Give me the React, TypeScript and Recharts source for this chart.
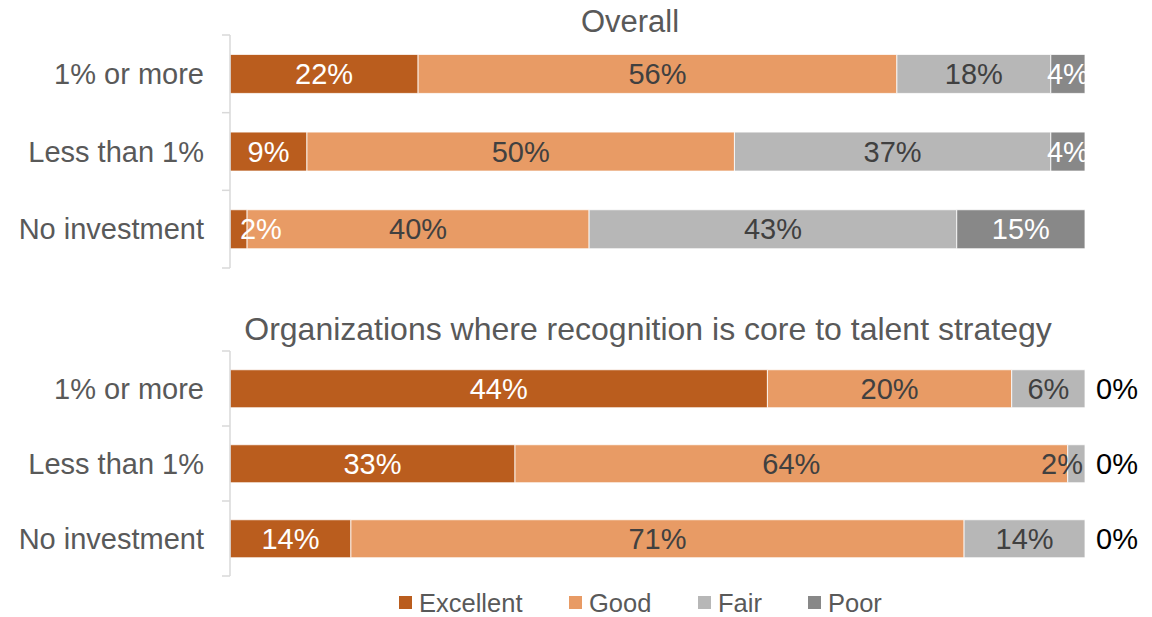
import React from 'react'
import { Bar, BarChart, LabelList, XAxis, YAxis } from 'recharts'

const groups = ['1% or more', 'Less than 1%', 'No investment']
const ratings = ['Excellent', 'Good', 'Fair', 'Poor']

const overallExcellent = [22, 9, 2]
const overallGood = [56, 50, 40]
const overallFair = [18, 37, 43]
const overallPoor = [4, 4, 15]

const coreExcellent = [44, 33, 14]
const coreGood = [20, 64, 71]
const coreFair = [6, 2, 14]
const corePoor = [0, 0, 0]

const colors = ['#ba5d1e', '#e89b65', '#b7b7b7', '#888888']
const labelColors = ['#ffffff', '#404040', '#404040', '#ffffff']

const FONT = '"Liberation Sans", Arial, sans-serif'
const PLOT_LEFT = 230
const PLOT_RIGHT = 1085

const overallData = groups.map((g, i) => ({
  group: g,
  Excellent: overallExcellent[i],
  Good: overallGood[i],
  Fair: overallFair[i],
  Poor: overallPoor[i],
}))

const coreData = groups.map((g, i) => ({
  group: g,
  Excellent: coreExcellent[i],
  Good: coreGood[i],
  Fair: coreFair[i],
  Poor: corePoor[i],
}))

// rough Arial digit/percent widths, used to keep labels inside the plot
function textWidth(s: string, size: number) {
  let w = 0
  for (const ch of s) w += ch === '%' ? 0.889 : 0.556
  return w * size
}

function makeLabel(idx: number) {
  return (props: any) => {
    const { x, y, width, height, value } = props
    if (!value) return null
    const size = 29
    const txt = `${value}%`
    const cy = Number(y) + Number(height) / 2
    const tw = textWidth(txt, size)
    let cx = Number(x) + Number(width) / 2
    if (cx - tw / 2 < PLOT_LEFT) cx = Number(x) + 10 + tw / 2
    if (cx + tw / 2 > PLOT_RIGHT + 4) cx = PLOT_RIGHT - 2 - tw / 2
    return (
      <text x={cx} y={cy} fill={labelColors[idx]} fontSize={size} fontFamily={FONT} textAnchor='middle' dominantBaseline='central'>
        {txt}
      </text>
    )
  }
}

// zero-width Poor segments: print their 0% just past the end of the stack
function zeroLabel(props: any) {
  const { x, y, width, height, value } = props
  if (value !== 0) return null
  return (
    <text x={Number(x) + Number(width) + 11} y={Number(y) + Number(height) / 2} fill='#000' fontSize={29} fontFamily={FONT} textAnchor='start' dominantBaseline='central'>
      {`${value}%`}
    </text>
  )
}

function makeTick(plotHeight: number) {
  const band = plotHeight / groups.length
  return (props: any) => {
    const { y, payload, index } = props
    return (
      <g>
        <text x={PLOT_LEFT - 26} y={y} fill='#595959' fontSize={29} fontFamily={FONT} textAnchor='end' dominantBaseline='central'>
          {payload.value}
        </text>
        <line x1={PLOT_LEFT - 8} x2={PLOT_LEFT} y1={y - band / 2} y2={y - band / 2} stroke='#d9d9d9' strokeWidth={1.5} />
        {index === groups.length - 1 && (
          <line x1={PLOT_LEFT - 8} x2={PLOT_LEFT} y1={y + band / 2} y2={y + band / 2} stroke='#d9d9d9' strokeWidth={1.5} />
        )}
      </g>
    )
  }
}

function StackChart({ data, height, top, bottom }: { data: any[]; height: number; top: number; bottom: number }) {
  return (
    <BarChart
      width={1152}
      height={height}
      data={data}
      layout='vertical'
      stackOffset='expand'
      barCategoryGap='25%'
      margin={{ top, right: 1152 - PLOT_RIGHT, bottom, left: 0 }}
    >
      <XAxis type='number' hide />
      <YAxis
        type='category'
        dataKey='group'
        width={PLOT_LEFT}
        axisLine={{ stroke: '#d9d9d9', strokeWidth: 1.5 }}
        tickLine={false}
        tick={makeTick(height - top - bottom)}
      />
      {ratings.map((r, i) => (
        <Bar key={r} dataKey={r} stackId='a' fill={colors[i]} stroke='#ffffff' strokeWidth={0.8} isAnimationActive={false}>
          <LabelList dataKey={r} content={makeLabel(i)} />
          {r === 'Fair' && <LabelList dataKey='Poor' content={zeroLabel} />}
        </Bar>
      ))}
    </BarChart>
  )
}

const legendX = [399, 569, 698, 808]

function LegendRow() {
  return (
    <svg width={1152} height={57} style={{ position: 'absolute', left: 0, top: 560 }}>
      {ratings.map((r, i) => (
        <g key={r}>
          <rect x={legendX[i]} y={36} width={13} height={13} fill={colors[i]} />
          <text x={legendX[i] + 20} y={43} fill='#595959' fontSize={25.5} fontFamily={FONT} dominantBaseline='central'>
            {r}
          </text>
        </g>
      ))}
    </svg>
  )
}

export default function App() {
  const titleStyle: React.CSSProperties = {
    position: 'absolute',
    fontFamily: FONT,
    color: '#595959',
    whiteSpace: 'nowrap',
    transform: 'translateX(-50%)',
    lineHeight: '36px',
  }
  return (
    <div style={{ position: 'absolute', left: 0, top: 0, width: 1152, height: 617, background: '#fff' }}>
      <div style={{ ...titleStyle, fontSize: 31, left: 630, top: 4 }}>Overall</div>
      <div style={{ ...titleStyle, fontSize: 32, left: 648, top: 311 }}>Organizations where recognition is core to talent strategy</div>
      <div style={{ position: 'absolute', left: 0, top: 0 }}>
        <StackChart data={overallData} height={282} top={35} bottom={14} />
      </div>
      <div style={{ position: 'absolute', left: 0, top: 300 }}>
        <StackChart data={coreData} height={290} top={51} bottom={14} />
      </div>
      <LegendRow />
    </div>
  )
}
